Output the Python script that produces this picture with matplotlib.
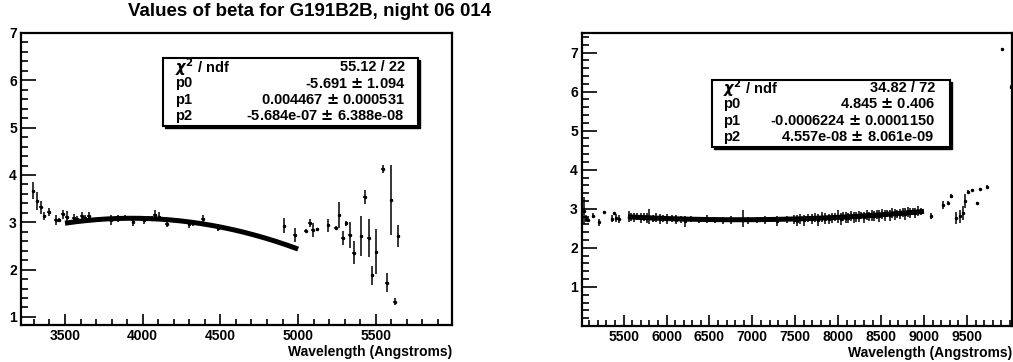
import numpy as np
import matplotlib.pyplot as plt
from matplotlib.patches import Rectangle
from matplotlib.ticker import MultipleLocator, FixedLocator

plt.rcParams['font.family'] = ['Liberation Sans', 'DejaVu Sans']
plt.rcParams['font.weight'] = 'bold'

# left panel: beta vs wavelength (3300-5650 A)
wl_left = [3296, 3322, 3344, 3367, 3395, 3442, 3464, 3485, 3511, 3558, 3579, 3607,
           3629, 3652, 3704, 3794, 3843, 3888, 3939, 4008, 4057, 4079, 4106, 4154,
           4222, 4299, 4321, 4385, 4486, 4910, 4978, 5049, 5074, 5096, 5122, 5193,
           5242, 5264, 5289, 5311, 5332, 5358, 5407, 5429, 5453, 5478, 5504, 5546,
           5572, 5598, 5621, 5643]
beta_left = [3.67, 3.44, 3.32, 3.13, 3.22, 3.05, 3.05, 3.17, 3.12, 3.10, 3.08, 3.13,
             3.10, 3.13, 3.06, 3.05, 3.08, 3.10, 3.01, 3.05, 3.08, 3.15, 3.12, 2.96,
             3.05, 2.96, 2.99, 3.06, 2.89, 2.93, 2.74, 2.82, 2.99, 2.84, 2.85, 2.94,
             2.89, 3.15, 2.66, 2.98, 2.73, 2.36, 2.71, 3.54, 2.66, 1.88, 2.38, 4.13,
             1.72, 3.47, 1.32, 2.71]
err_left = [0.18, 0.19, 0.14, 0.09, 0.08, 0.10, 0.05, 0.10, 0.12, 0.08, 0.06, 0.08,
            0.06, 0.08, 0.04, 0.10, 0.07, 0.05, 0.08, 0.08, 0.06, 0.10, 0.09, 0.05,
            0.04, 0.08, 0.06, 0.10, 0.08, 0.16, 0.15, 0.03, 0.08, 0.15, 0.03, 0.14,
            0.03, 0.28, 0.15, 0.05, 0.28, 0.25, 0.42, 0.15, 0.40, 0.20, 0.48, 0.08,
            0.20, 0.74, 0.07, 0.24]
fit_left = [-5.691, 0.004467, -5.684e-07]
fit_left_range = [3500, 5000]
stats_left = [("$\\chi^{2}$ / ndf", "55.12 / 22"),
              ("p0", "-5.691 $\\pm$ 1.094"),
              ("p1", "0.004467 $\\pm$ 0.000531"),
              ("p2", "-5.684e-07 $\\pm$ 6.388e-08")]

# right panel: beta vs wavelength (5000-10000 A)
wl_right = [5040, 5060, 5090, 5140, 5210, 5270, 5360, 5390, 5415, 5450,
            5560, 5590, 5625, 5660, 5700, 5735, 5770, 5800, 5840, 5880,
            5920, 5960, 6010, 6060, 6110, 6170, 6220, 6290, 6380, 6470,
            6560, 6660, 6750, 6890, 6950, 7050, 7150, 7290, 7400, 7480,
            7520, 7560, 7600, 7650, 7690, 7730, 7770, 7810, 7850, 7890,
            7930, 7960, 8000, 8030, 8060, 8090, 8120, 8150, 8180, 8210,
            8240, 8270, 8300, 8330, 8360, 8390, 8420, 8450, 8480, 8510,
            8540, 8570, 8600, 8630, 8660, 8690, 8720, 8750, 8780, 8810,
            8840, 8870, 8900, 8930, 8960,
            9083, 9223, 9281, 9311, 9374, 9424, 9456, 9482, 9509, 9560,
            9619, 9649, 9735, 9910, 10018]
beta_right = [2.95, 2.75, 2.72, 2.82, 2.65, 2.91, 2.74, 2.89, 2.77, 2.74,
              2.80, 2.79, 2.78, 2.80, 2.77, 2.78, 2.76, 2.80, 2.75, 2.77,
              2.74, 2.76, 2.74, 2.75, 2.72, 2.73, 2.68, 2.73, 2.72, 2.73,
              2.72, 2.71, 2.72, 2.75, 2.71, 2.72, 2.72, 2.69, 2.73, 2.72,
              2.70, 2.74, 2.71, 2.76, 2.73, 2.77, 2.72, 2.78, 2.75, 2.74,
              2.76, 2.79, 2.80, 2.74, 2.80, 2.77, 2.76, 2.81, 2.78, 2.79,
              2.80, 2.83, 2.78, 2.84, 2.81, 2.82, 2.82, 2.86, 2.81, 2.87,
              2.84, 2.88, 2.83, 2.89, 2.86, 2.87, 2.87, 2.91, 2.86, 2.92,
              2.90, 2.93, 2.89, 2.95, 2.93,
              2.81, 3.10, 3.16, 3.32, 2.77, 2.81, 2.89, 3.19, 3.44, 3.49,
              3.15, 3.50, 3.57, 7.08, 6.12]
err_right = [0.35, 0.08, 0.06, 0.06, 0.10, 0.03, 0.09, 0.03, 0.10, 0.10,
             0.15, 0.10, 0.12, 0.08, 0.13, 0.10, 0.12, 0.20, 0.10, 0.12,
             0.13, 0.09, 0.12, 0.08, 0.12, 0.09, 0.14, 0.08, 0.08, 0.10,
             0.08, 0.09, 0.10, 0.22, 0.09, 0.08, 0.10, 0.13, 0.09, 0.12,
             0.13, 0.12, 0.14, 0.10, 0.13, 0.12, 0.15, 0.13, 0.14, 0.12,
             0.13, 0.10, 0.17, 0.15, 0.12, 0.14, 0.12, 0.13, 0.14, 0.12,
             0.15, 0.10, 0.14, 0.13, 0.12, 0.14, 0.13, 0.12, 0.15, 0.12,
             0.14, 0.10, 0.13, 0.12, 0.14, 0.10, 0.13, 0.12, 0.15, 0.12,
             0.13, 0.10, 0.12, 0.13, 0.10,
             0.08, 0.10, 0.04, 0.05, 0.16, 0.17, 0.18, 0.18, 0.03, 0.02,
             0.03, 0.02, 0.03, 0.02, 0.05]
fit_right = [4.845, -0.0006224, 4.557e-08]
fit_right_range = [5550, 9000]
stats_right = [("$\\chi^{2}$ / ndf", "34.82 / 72"),
               ("p0", "4.845 $\\pm$ 0.406"),
               ("p1", "-0.0006224 $\\pm$ 0.0001150"),
               ("p2", "4.557e-08 $\\pm$ 8.061e-09")]

W, H = 1013, 362
fig = plt.figure(figsize=(W / 100, H / 100), dpi=100)


def pix_axes(x0, y0, x1, y1):
    return fig.add_axes([x0 / W, 1 - y1 / H, (x1 - x0) / W, (y1 - y0) / H])


def stats_box(x0, y0, x1, y1, rows, lab_x, val_x, row_y0, dy):
    # shadow then box
    fig.add_artist(Rectangle(((x0 + 2) / W, 1 - (y1 + 2) / H), (x1 - x0) / W, (y1 - y0) / H,
                             transform=fig.transFigure, facecolor='black', edgecolor='black', lw=1, zorder=10))
    fig.add_artist(Rectangle((x0 / W, 1 - y1 / H), (x1 - x0) / W, (y1 - y0) / H,
                             transform=fig.transFigure, facecolor='white', edgecolor='black', lw=1.5, zorder=11))
    for i, (lab, val) in enumerate(rows):
        yy = 1 - (row_y0 + i * dy) / H
        fig.text(lab_x / W, yy, lab, ha='left', va='center', fontsize=10.5, fontweight='bold', zorder=12)
        fig.text(val_x / W, yy, val, ha='right', va='center', fontsize=10.5, fontweight='bold', zorder=12)


def style(ax):
    for s in ax.spines.values():
        s.set_linewidth(1.6)
    ax.tick_params(which='both', direction='in', top=False, right=False,
                   labelsize=10, width=1.2, pad=3)
    ax.tick_params(axis='y', which='major', length=11)
    ax.tick_params(axis='y', which='minor', length=5)
    ax.tick_params(axis='x', which='major', length=8)
    ax.tick_params(axis='x', which='minor', length=4)
    for lab in ax.get_xticklabels() + ax.get_yticklabels():
        lab.set_fontweight('bold')
    ax.set_xlabel('Wavelength (Angstroms)', fontsize=10, fontweight='bold', loc='right', labelpad=1)


# left
ax1 = pix_axes(21, 33, 452, 325)
ax1.errorbar(wl_left, beta_left, yerr=err_left, xerr=10, fmt='o', ms=1.5, color='black',
             ecolor='black', elinewidth=1.1, capsize=0)
xf = np.linspace(fit_left_range[0], fit_left_range[1], 200)
ax1.plot(xf, fit_left[0] + fit_left[1] * xf + fit_left[2] * xf ** 2, color='black', lw=3.6,
         solid_capstyle='butt')
ax1.set_xlim(3217, 5990)
ax1.set_ylim(0.83, 7.0)
ax1.xaxis.set_major_locator(FixedLocator([3500, 4000, 4500, 5000, 5500]))
ax1.xaxis.set_minor_locator(MultipleLocator(100))
ax1.yaxis.set_major_locator(MultipleLocator(1))
ax1.yaxis.set_minor_locator(MultipleLocator(0.2))
style(ax1)

# right
ax2 = pix_axes(582, 33, 1012, 326)
ax2.errorbar(wl_right, beta_right, yerr=err_right, xerr=12, fmt='o', ms=1.5, color='black',
             ecolor='black', elinewidth=1.1, capsize=0)
xf = np.linspace(fit_right_range[0], fit_right_range[1], 200)
ax2.plot(xf, fit_right[0] + fit_right[1] * xf + fit_right[2] * xf ** 2, color='black', lw=3.6,
         solid_capstyle='butt')
ax2.set_xlim(5015, 10025)
ax2.set_ylim(0.0, 7.5)
ax2.xaxis.set_major_locator(FixedLocator(list(range(5500, 10000, 500))))
ax2.xaxis.set_minor_locator(MultipleLocator(100))
ax2.yaxis.set_major_locator(FixedLocator([1, 2, 3, 4, 5, 6, 7]))
ax2.yaxis.set_minor_locator(MultipleLocator(0.2))
style(ax2)

fig.text(310 / W, 1 - 12 / H, 'Values of beta for G191B2B, night 06 014', ha='center', va='center',
         fontsize=13.5, fontweight='bold')

stats_box(163, 58, 418, 126, stats_left, 175, 405, 67, 16.5)
stats_box(712, 80, 950, 147, stats_right, 723, 935, 88, 16.3)

fig.savefig('out.png', dpi=100)
